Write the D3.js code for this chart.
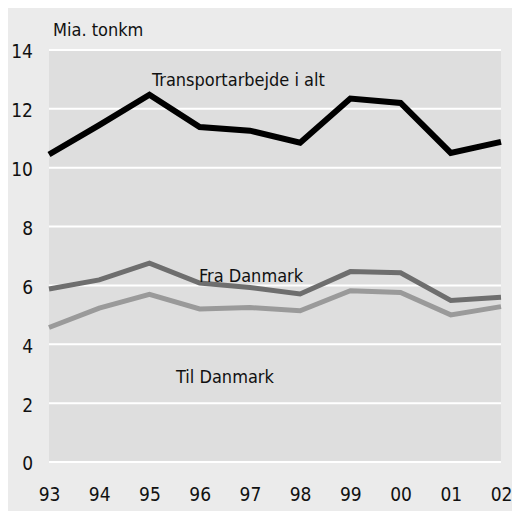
<!DOCTYPE html>
<html>
<head>
<meta charset="utf-8">
<script src="https://cdn.jsdelivr.net/npm/d3@7"></script>
<style>
  body { margin: 0; background: #fff; }
  text { font-family: "Liberation Sans Narrow", "DejaVu Sans Condensed", sans-serif; fill: #111; }
</style>
</head>
<body>
<svg id="chart" width="512" height="511"></svg>
<script>
// Godstransport, mia. tonkm
var years = ["93", "94", "95", "96", "97", "98", "99", "00", "01", "02"];
var total = [10.45, 11.45, 12.48, 11.38, 11.26, 10.85, 12.35, 12.2, 10.5, 10.88];
var fraDanmark = [5.88, 6.19, 6.76, 6.08, 5.93, 5.71, 6.47, 6.43, 5.49, 5.6];
var tilDanmark = [4.57, 5.23, 5.7, 5.2, 5.25, 5.14, 5.82, 5.76, 5.0, 5.28];
var yTicks = [0, 2, 4, 6, 8, 10, 12, 14];

var svg = d3.select("#chart");

// outer panel
svg.append("rect")
    .attr("x", 8).attr("y", 8)
    .attr("width", 504).attr("height", 503)
    .attr("fill", "#ebebeb");

// plot area bounds (note: "top" is reserved on window, so use plotTop)
var plotLeft = 49, plotRight = 501, plotTop = 50, plotBottom = 462;

var x = d3.scalePoint().domain(years).range([plotLeft, plotRight]);
var y = d3.scaleLinear().domain([0, 14]).range([plotBottom, plotTop]);

svg.append("rect")
    .attr("x", plotLeft).attr("y", plotTop)
    .attr("width", plotRight - plotLeft).attr("height", plotBottom - plotTop)
    .attr("fill", "#dedede");

// gridlines
svg.selectAll("line.grid")
    .data(yTicks)
    .enter().append("line")
    .attr("class", "grid")
    .attr("x1", plotLeft).attr("x2", plotRight)
    .attr("y1", function (d) { return y(d); })
    .attr("y2", function (d) { return y(d); })
    .attr("stroke", "#fff")
    .attr("stroke-width", 2);

// y axis labels
var yAxis = d3.axisLeft(y).tickValues(yTicks).tickSize(0).tickPadding(0);
var gy = svg.append("g").attr("transform", "translate(33,0)").call(yAxis);
gy.select(".domain").remove();
gy.selectAll("text")
    .attr("font-size", 19)
    .attr("dy", "0.42em")
    .style("font-family", null);

// x axis labels
var xAxis = d3.axisBottom(x).tickSize(0).tickPadding(0);
var gx = svg.append("g").attr("transform", "translate(0,488)").call(xAxis);
gx.select(".domain").remove();
gx.selectAll("text")
    .attr("font-size", 19)
    .attr("dy", "0.7em")
    .style("font-family", null);

// lines
var line = d3.line()
    .x(function (d, i) { return x(years[i]); })
    .y(function (d) { return y(d); });

var series = [
    { values: tilDanmark, color: "#9a9a9a", width: 5 },
    { values: fraDanmark, color: "#6e6e6e", width: 5 },
    { values: total, color: "#000", width: 6 }
];

svg.selectAll("path.series")
    .data(series)
    .enter().append("path")
    .attr("class", "series")
    .attr("d", function (s) { return line(s.values); })
    .attr("fill", "none")
    .attr("stroke", function (s) { return s.color; })
    .attr("stroke-width", function (s) { return s.width; })
    .attr("stroke-linejoin", "miter");

// labels
var labels = [
    { text: "Mia. tonkm", x: 53, y: 36 },
    { text: "Transportarbejde i alt", x: 152, y: 86 },
    { text: "Fra Danmark", x: 199, y: 282 },
    { text: "Til Danmark", x: 176, y: 383 }
];

svg.selectAll("text.label")
    .data(labels)
    .enter().append("text")
    .attr("class", "label")
    .attr("x", function (d) { return d.x; })
    .attr("y", function (d) { return d.y; })
    .attr("font-size", 18)
    .text(function (d) { return d.text; });
</script>
</body>
</html>
